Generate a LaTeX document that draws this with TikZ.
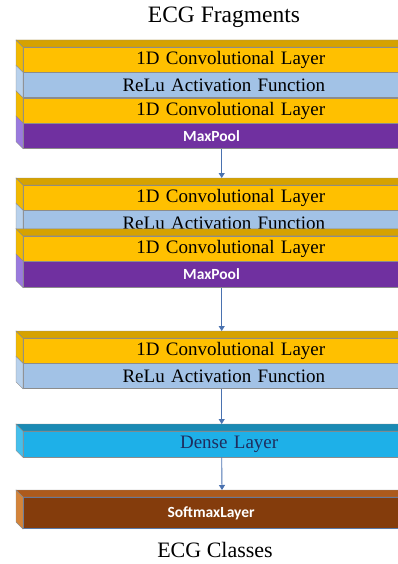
\documentclass[tikz,border=0pt]{standalone}
\usepackage{fontspec}
\setmainfont{Liberation Serif}
\newfontfamily\calibrifont{Carlito}
\usetikzlibrary{arrows.meta, calc, positioning}
\definecolor{ConvFront}{HTML}{FFC000}
\definecolor{ConvTop}{HTML}{D6A200}
\definecolor{ConvSide}{HTML}{F2B900}
\definecolor{ReluFront}{HTML}{A2C2E6}
\definecolor{ReluSide}{HTML}{B8D1EC}
\definecolor{PoolFront}{HTML}{7030A0}
\definecolor{PoolSide}{HTML}{9A7ADE}
\definecolor{DenseFront}{HTML}{1EB0E8}
\definecolor{DenseTop}{HTML}{1A8AB4}
\definecolor{DenseSide}{HTML}{45BFEC}
\definecolor{DenseText}{HTML}{1F2D5E}
\definecolor{SoftFront}{HTML}{843C0C}
\definecolor{SoftTop}{HTML}{AD5A1C}
\definecolor{SoftSide}{HTML}{D4843A}
\definecolor{SoftEdge}{HTML}{5B7BAA}
\definecolor{EdgeGray}{HTML}{8C8C8C}
\definecolor{FlowBlue}{HTML}{4A72B0}

\begin{document}
\begin{tikzpicture}[x = 1pt, y = -1pt]%
    %
    \def\depth{7}%
    \def\facewidth{397pt}%
    %
    \tikzstyle{face} = [rectangle, anchor = north west, minimum width = \facewidth, inner xsep = 0pt, inner ysep = 0pt, draw = EdgeGray, line width = .4pt]%
    \tikzstyle{serif} = [font = \fontsize{19}{21}\selectfont]%
    \tikzstyle{sans} = [font = \calibrifont\bfseries\fontsize{15.5}{17}\selectfont, text = white]%
    \tikzstyle{conv} = [face, serif, fill = ConvFront, minimum height = 25pt, text width = 207pt, align = right]%
    \tikzstyle{relu} = [face, serif, fill = ReluFront, minimum height = 25pt, text width = 207pt, align = right]%
    \tikzstyle{pool} = [face, sans, fill = PoolFront, minimum height = 25pt, text width = 77pt, align = left]%
    \tikzstyle{dense} = [face, serif, fill = DenseFront, text = DenseText, minimum height = 26pt, text width = 113pt, align = right]%
    \tikzstyle{softmax} = [face, sans, fill = SoftFront, draw = SoftEdge, line width = 1pt, minimum height = 31pt, text width = 109pt, align = left]%
    \tikzstyle{title} = [anchor = base, inner sep = 0pt]%
    \tikzstyle{flow} = [-{Triangle[length = 5pt, width = 6pt]}, draw = FlowBlue, line width = .9pt]%
    %
    \def\topface(#1)[#2]{% Syntax: (front node)[fill colour]
        \filldraw [#2, draw = EdgeGray, line width = .4pt] (#1.north west) -- ++(-\depth, -\depth) -- ($(#1.north east) + (-\depth, -\depth)$) -- (#1.north east) -- cycle;%
        \coordinate (#1-top) at ($(#1.north) + (0, -\depth)$);%
    }%
    \def\sideface(#1)[#2]{% Syntax: (front node)[fill colour]
        \filldraw [#2, draw = EdgeGray, line width = .4pt] (#1.north west) -- (#1.south west) -- ++(-\depth, -\depth) -- ($(#1.north west) + (-\depth, -\depth)$) -- cycle;%
    }%
    %
    \useasboundingbox (0, 0) rectangle (397, 564);%
    %
    \node [title, font = \fontsize{23.5}{25}\selectfont] (input) at (224, 23) {ECG Fragments};%
    %
    % first block
    \node [conv] (c1) at (23, 47) {1D Convolutional Layer};%
    \node [relu, below = 0pt of c1] (r1) {ReLu Activation Function};%
    \node [conv, below = 0pt of r1] (c2) {1D Convolutional Layer};%
    \node [pool, below = 0pt of c2] (m1) {MaxPool};%
    \sideface(c1)[ConvSide];%
    \sideface(r1)[ReluSide];%
    \sideface(c2)[ConvSide];%
    \sideface(m1)[PoolSide];%
    \topface(c1)[ConvTop];%
    %
    % second block
    \node [conv] (c3) at (23, 185) {1D Convolutional Layer};%
    \node [relu, below = 0pt of c3] (r2) {ReLu Activation Function};%
    \node [conv, below = 0pt of r2] (c4) {1D Convolutional Layer};%
    \node [pool, below = 0pt of c4, minimum height = 26pt] (m2) {MaxPool};%
    \sideface(c3)[ConvSide];%
    \sideface(r2)[ReluSide];%
    \sideface(c4)[ConvSide];%
    \sideface(m2)[PoolSide];%
    \topface(c3)[ConvTop];%
    \topface(c4)[ConvTop];%
    %
    % third block
    \node [conv] (c5) at (23, 338) {1D Convolutional Layer};%
    \node [relu, below = 0pt of c5] (r3) {ReLu Activation Function};%
    \sideface(c5)[ConvSide];%
    \sideface(r3)[ReluSide];%
    \topface(c5)[ConvTop];%
    %
    % classifier
    \node [dense] (d1) at (23, 431) {Dense Layer};%
    \sideface(d1)[DenseSide];%
    \topface(d1)[DenseTop];%
    \node [softmax] (s1) at (23, 497) {SoftmaxLayer};%
    \sideface(s1)[SoftSide];%
    \topface(s1)[SoftTop];%
    %
    \draw [flow] (m1.south) -- (c3-top);%
    \draw [flow] (m2.south) -- (c5-top);%
    \draw [flow] (r3.south) -- (d1-top);%
    \draw [flow] (d1.south) -- (s1-top);%
    %
    \node [title, font = \fontsize{22}{24}\selectfont] (output) at (215, 557) {ECG Classes};%
\end{tikzpicture}
\end{document}
